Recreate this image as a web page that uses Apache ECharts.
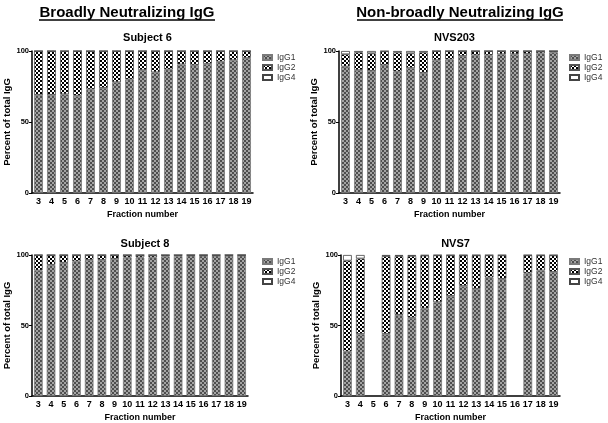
<!DOCTYPE html>
<html><head><meta charset="utf-8">
<script src="https://cdn.jsdelivr.net/npm/echarts@6/dist/echarts.min.js"></script>
<style>html,body{margin:0;padding:0;background:#fff}#c{width:608px;height:423px}</style>
</head><body><div id="c"></div>
<script>
var fractions = ['3','4','5','6','7','8','9','10','11','12','13','14','15','16','17','18','19'];
var yTicks = [0, 50, 100];
var panelTitles = ['Subject 6', 'NVS203', 'Subject 8', 'NVS7'];
var groupTitles = ['Broadly Neutralizing IgG', 'Non-broadly Neutralizing IgG'];
var seriesNames = ['IgG1', 'IgG2', 'IgG4'];

// Subject 6
var s6_IgG1 = [69, 69, 69.5, 68.5, 73, 74, 78, 80, 86.5, 85, 87, 90.5, 90, 91, 92.5, 93.5, 95];
var s6_IgG2 = [31, 31, 30.5, 31.5, 27, 26, 22, 20, 13.5, 15, 13, 9.5, 10, 9, 7.5, 6.5, 5];
var s6_IgG4 = [0, 0, 0, 0, 0, 0, 0, 0, 0, 0, 0, 0, 0, 0, 0, 0, 0];
// NVS203
var n203_IgG1 = [89, 86.5, 86, 90, 85.5, 88, 84.5, 93.5, 94, 96.5, 97, 97, 97.7, 97.7, 98, 98.4, 99];
var n203_IgG2 = [8.7, 12.5, 12.4, 9.8, 13.5, 10.4, 14.5, 6.5, 6, 3.5, 3, 3, 2.3, 2.3, 2, 1.6, 1];
var n203_IgG4 = [2.3, 1, 1.6, 0.2, 1, 1.6, 1, 0, 0, 0, 0, 0, 0, 0, 0, 0, 0];
// Subject 8
var s8_IgG1 = [89, 93, 94.5, 95.5, 96.5, 96.5, 97.2, 98.2, 98.3, 98.3, 99, 99.4, 99.5, 99.5, 99.5, 99.5, 99.6];
var s8_IgG2 = [11, 7, 5.5, 4.5, 3.5, 3.5, 2.8, 1.8, 1.7, 1.7, 1, 0.6, 0.5, 0.5, 0.5, 0.5, 0.4];
var s8_IgG4 = [0, 0, 0, 0, 0, 0, 0, 0, 0, 0, 0, 0, 0, 0, 0, 0, 0];
// NVS7
var n7_IgG1 = [31.5, 44, null, 44, 57.5, 55.5, 62, 66.5, 71, 78, 76, 84, 83, null, 87, 89, 88];
var n7_IgG2 = [64.5, 53.5, null, 55.2, 41.8, 43.8, 37.6, 33.3, 28.8, 21.8, 23.8, 15.8, 16.8, null, 12.8, 10.8, 11.8];
var n7_IgG4 = [4, 2.5, null, 0.8, 0.7, 0.7, 0.4, 0.2, 0.2, 0.2, 0.2, 0.2, 0.2, null, 0.2, 0.2, 0.2];

var panelData = [
  [s6_IgG1, s6_IgG2, s6_IgG4],
  [n203_IgG1, n203_IgG2, n203_IgG4],
  [s8_IgG1, s8_IgG2, s8_IgG4],
  [n7_IgG1, n7_IgG2, n7_IgG4]
];

function pattern(c1, c2, cell) {
  var cv = document.createElement('canvas');
  cv.width = cell * 2; cv.height = cell * 2;
  var ctx = cv.getContext('2d');
  ctx.fillStyle = c1; ctx.fillRect(0, 0, cell * 2, cell * 2);
  ctx.fillStyle = c2;
  ctx.fillRect(0, 0, cell, cell);
  ctx.fillRect(cell, cell, cell, cell);
  return { image: cv, repeat: 'repeat' };
}
var fills = [pattern('#a4a4a4', '#4e4e4e', 2), pattern('#ffffff', '#000000', 2), '#ffffff'];
var borders = ['#7a7a7a', '#555555', '#444444'];

var FONT = '"Liberation Sans", Arial, sans-serif';
var grids = [
  { left: 32, top: 51, width: 221, height: 142 },
  { left: 339, top: 51, width: 221, height: 142 },
  { left: 32, top: 255, width: 216, height: 144 },
  { left: 341, top: 255, width: 219, height: 144 }
];
var titleTops = [27, 27, 233, 233];
var legendLefts = [262, 569, 262, 569];

var xAxes = [], yAxes = [], series = [], titles = [], legends = [];
grids.forEach(function (g, i) {
  xAxes.push({
    type: 'category', gridIndex: i, data: fractions,
    name: 'Fraction number', nameLocation: 'middle', nameGap: 17,
    nameTextStyle: { fontFamily: FONT, fontWeight: 'bold', fontSize: 9, color: '#000' },
    axisLine: { lineStyle: { color: '#000', width: 1.5 } },
    axisTick: { alignWithLabel: true, length: 3, lineStyle: { color: '#000' } },
    axisLabel: { fontFamily: FONT, fontWeight: 'bold', fontSize: 9, color: '#000', margin: 4, interval: 0 }
  });
  yAxes.push({
    type: 'value', gridIndex: i, min: yTicks[0], max: yTicks[yTicks.length - 1], interval: yTicks[1] - yTicks[0],
    name: 'Percent of total IgG', nameLocation: 'middle', nameGap: 18,
    nameTextStyle: { fontFamily: FONT, fontWeight: 'bold', fontSize: 9.5, color: '#000' },
    axisLine: { show: true, lineStyle: { color: '#000', width: 1.5 } },
    axisTick: { show: true, length: 3, lineStyle: { color: '#000' } },
    axisLabel: { fontFamily: FONT, fontWeight: 'bold', fontSize: 7.5, color: '#000', margin: 3 },
    splitLine: { show: false }
  });
  seriesNames.forEach(function (nm, k) {
    series.push({
      name: nm, type: 'bar', stack: 'p' + i, xAxisIndex: i, yAxisIndex: i,
      data: panelData[i][k], barWidth: '68%',
      itemStyle: { color: fills[k], borderColor: borders[k], borderWidth: 0.8 },
      emphasis: { disabled: true }, animation: false
    });
  });
  titles.push({
    text: panelTitles[i], left: g.left + g.width / 2, textAlign: 'center', top: titleTops[i],
    textStyle: { fontFamily: FONT, fontWeight: 'bold', fontSize: 11, color: '#000' }
  });
  legends.push({
    data: seriesNames, orient: 'vertical', padding: 0,
    left: legendLefts[i], top: g.top + 2,
    itemWidth: 9, itemHeight: 5, itemGap: 1, icon: 'rect', selectedMode: false,
    textStyle: { fontFamily: FONT, fontSize: 8.5, lineHeight: 7, color: '#333', padding: [0, 0, 0, 0] }
  });
});
titles.push({ text: groupTitles[0], left: 122, textAlign: 'center', top: 0,
  textStyle: { fontFamily: FONT, fontWeight: 'bold', fontSize: 15, color: '#000' } });
titles.push({ text: groupTitles[1], left: 455, textAlign: 'center', top: 0,
  textStyle: { fontFamily: FONT, fontWeight: 'bold', fontSize: 15, color: '#000' } });

var chart = echarts.init(document.getElementById('c'), null, { renderer: 'canvas' });
chart.setOption({
  animation: false,
  title: titles,
  legend: legends,
  grid: grids,
  xAxis: xAxes,
  yAxis: yAxes,
  series: series,
  graphic: [
    { type: 'line', shape: { x1: 39, y1: 20, x2: 215, y2: 20 }, style: { stroke: '#000', lineWidth: 1.5 } },
    { type: 'line', shape: { x1: 357, y1: 20, x2: 563, y2: 20 }, style: { stroke: '#000', lineWidth: 1.5 } }
  ]
});
</script></body></html>
